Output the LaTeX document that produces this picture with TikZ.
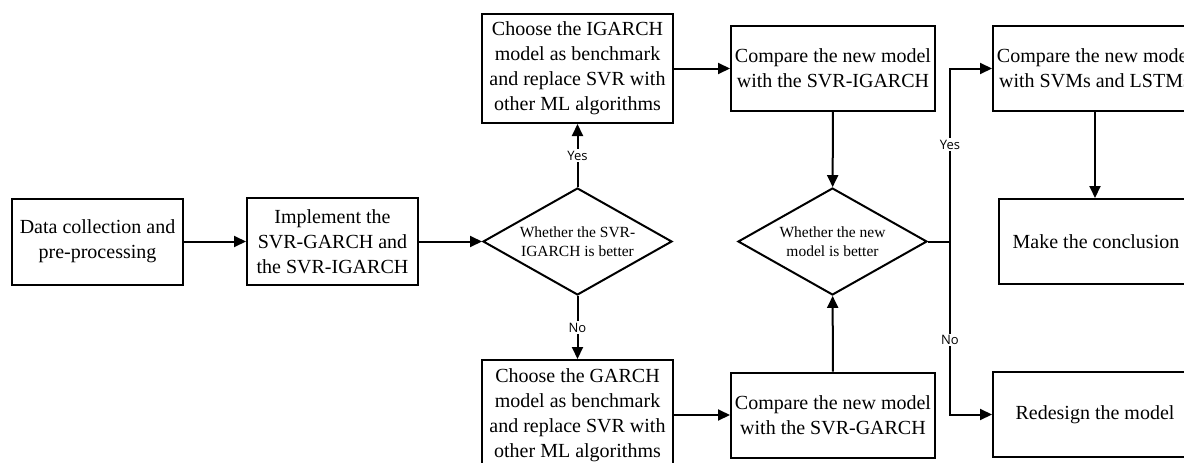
\documentclass[tikz,border=0pt]{standalone}
\usepackage{fontspec}
\setmainfont{Liberation Serif}
\newfontfamily\lblfont{Open Sans}
\usetikzlibrary{shapes.geometric,arrows.meta,positioning}

\begin{document}
\begin{tikzpicture}[
    x=1pt, y=-1pt,
    line width = 2pt,
    box/.style  = { draw, align=center, inner xsep=2pt, inner ysep=0pt,
                    font=\fontsize{20}{25}\selectfont },
    dec/.style  = { draw, diamond, aspect=1.77, inner sep=0pt,
                    minimum width=189pt, minimum height=107pt, align=center,
                    font=\fontsize{15.5}{19.5}\selectfont },
    connect line/.style = { -{Triangle[length=12pt,width=11pt]} },
    lbl/.style  = { fill=white, inner sep=1.5pt, font=\lblfont\fontsize{13}{15}\selectfont }
]
\useasboundingbox (0,0) rectangle (1184,463);

% left part
\node[box, minimum width=171pt, minimum height=86pt]
  (data) at (97.5,241.5) {Data collection and\\pre-processing};
\node[box, minimum width=171pt, minimum height=87pt]
  (impl) at (332.5,241.5) {Implement the\\SVR-GARCH and\\the SVR-IGARCH};
\node[dec] (dec1) at (577.5,241.5) {Whether the SVR-\\IGARCH is better};

% benchmarks
\node[box, minimum width=191pt, minimum height=109pt]
  (igarch) at (577.5,68.5)
  {Choose the IGARCH\\model as benchmark\\and replace SVR with\\other ML algorithms};
\node[box, minimum width=191pt, minimum height=110pt]
  (garch) at (577.5,415)
  {Choose the GARCH\\model as benchmark\\and replace SVR with\\other ML algorithms};

% comparisons
\node[box, minimum width=204pt, minimum height=85pt]
  (cmpI) at (833,68.5) {Compare the new model\\with the SVR-IGARCH};
\node[box, minimum width=204pt, minimum height=85pt]
  (cmpG) at (833,415) {Compare the new model\\with the SVR-GARCH};
\node[dec] (dec2) at (832.5,241.5) {Whether the new\\model is better};

% results
\node[box, minimum width=204pt, minimum height=85pt]
  (svm) at (1095,68.5) {Compare the new model\\with SVMs and LSTMs};
\node[box, minimum width=194pt, minimum height=85pt]
  (concl) at (1096,241.5) {Make the conclusion};
\node[box, minimum width=204pt, minimum height=85pt]
  (redes) at (1095,414.5) {Redesign the model};

\coordinate[right=22pt of dec2.east] (split);

\draw[connect line] (data) -- (impl);
\draw[connect line] (impl) -- (dec1);
\draw[connect line] (dec1) -- node[lbl] {Yes} (igarch);
\draw[connect line] (dec1) -- node[lbl] {No} (garch);
\draw[connect line] (igarch.east |- cmpI.west) -- (cmpI.west);
\draw[connect line] (garch.east |- cmpG.west) -- (cmpG.west);
\draw[connect line] (cmpI) -- (dec2);
\draw[connect line] (cmpG) -- (dec2);
\draw (dec2.east) -- (split);
\draw[connect line] (split) |- node[lbl, pos=0.28] {Yes} (svm.west);
\draw[connect line] (split) |- node[lbl, pos=0.285] {No} (redes.west);
\draw[connect line] (svm.south -| 1095,0) -- (concl.north -| 1095,0);

\end{tikzpicture}
\end{document}
